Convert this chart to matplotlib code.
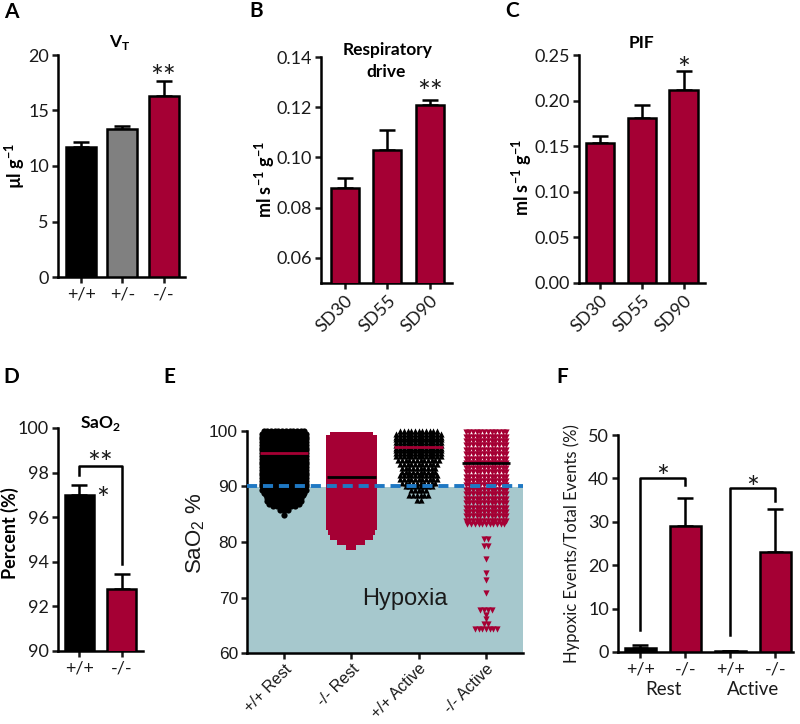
import numpy as np
import matplotlib
matplotlib.use("Agg")
import matplotlib.pyplot as plt
from matplotlib.transforms import blended_transform_factory, offset_copy

# ---------------- data ----------------
a_cats = ['+/+', '+/-', '-/-']
a_vals = [11.7, 13.3, 16.3]
a_errs = [0.5, 0.3, 1.4]

b_cats = ['SD30', 'SD55', 'SD90']
b_vals = [0.088, 0.103, 0.121]
b_errs = [0.004, 0.008, 0.002]

c_cats = ['SD30', 'SD55', 'SD90']
c_vals = [0.153, 0.181, 0.212]
c_errs = [0.008, 0.014, 0.020]

d_cats = ['+/+', '-/-']
d_vals = [97.0, 92.8]
d_errs = [0.45, 0.65]

e_cats = ['+/+ Rest', '-/- Rest', '+/+ Active', '-/- Active']
e_means = [96.0, 91.8, 97.2, 94.3]

# binned SaO2 readings (bin level, number of readings in that bin)
e_wt_rest_levels = [100.0, 99.5, 99.0, 98.5, 98.0, 97.5, 97.0, 96.5, 96.0, 95.5, 95.0, 94.5,
                    94.0, 93.5, 93.0, 92.5, 92.0, 91.5, 91.0, 90.5, 90.0, 89.4, 88.9, 88.4,
                    87.9, 87.4, 86.9, 86.4, 85.7, 84.8]
e_wt_rest_counts = [12, 13, 13, 13, 13, 13, 13, 13, 13, 13, 13, 13,
                    13, 13, 13, 13, 13, 13, 13, 13, 13, 13, 12, 11,
                    10, 10, 9, 7, 3, 1]

e_ko_rest_levels = [99.3, 98.8, 98.3, 97.8, 97.3, 96.8, 96.3, 95.8, 95.3, 94.8, 94.3, 93.8,
                    93.3, 92.8, 92.3, 91.8, 91.3, 90.8, 90.3, 89.8, 89.3, 88.8, 88.3, 87.8,
                    87.3, 86.8, 86.3, 85.4, 84.5, 83.6, 82.7, 81.8, 80.9, 80.0, 79.1]
e_ko_rest_counts = [11, 13, 13, 13, 13, 13, 13, 13, 13, 13, 13, 13,
                    13, 13, 13, 13, 13, 13, 13, 13, 13, 13, 13, 13,
                    13, 13, 13, 13, 13, 13, 13, 12, 11, 7, 2]

e_wt_act_levels = [100.0, 99.5, 99.0, 98.5, 98.0, 97.5, 97.0, 96.5, 96.0, 95.5,
                   94.8, 94.1, 93.4, 92.7, 92.0, 91.3, 90.6, 90.0, 89.3, 88.4, 87.6]
e_wt_act_counts = [11, 13, 13, 13, 13, 13, 13, 13, 13, 13,
                   12, 11, 10, 10, 11, 11, 10, 8, 5, 6, 2]

e_ko_act_levels = [99.8, 99.0, 98.2, 97.4, 96.6, 95.8, 95.0, 94.2, 93.4, 92.6, 91.8, 91.0,
                   90.2, 89.4, 88.6, 87.8, 87.0, 86.2, 85.4, 84.6, 83.8, 83.2,
                   80.6, 79.3, 76.9, 74.4, 73.2, 70.8, 67.7, 66.9, 66.1, 65.2, 64.4]
e_ko_act_counts = [12, 12, 12, 12, 12, 12, 12, 12, 12, 12, 12, 12,
                   12, 12, 12, 12, 12, 12, 12, 12, 12, 11,
                   2, 2, 1, 1, 1, 1, 4, 1, 1, 2, 7]

f_cats = ['+/+', '-/-', '+/+', '-/-']
f_groups = ['Rest', 'Active']
f_vals = [1.0, 29.0, 0.3, 23.0]
f_errs = [0.5, 6.5, 0.0, 10.0]

# ---------------- style ----------------
plt.rcParams['font.family'] = ['Lato', 'DejaVu Sans']
plt.rcParams['mathtext.fontset'] = 'custom'
plt.rcParams['mathtext.rm'] = 'Lato'
plt.rcParams['mathtext.bf'] = 'Lato:bold'
plt.rcParams['axes.unicode_minus'] = False

CRIMSON = '#a50034'
GRAY = '#808080'
TXT = '#1a1a1a'
ARIAL = ['Liberation Sans', 'DejaVu Sans']

W, H = 800, 724
fig = plt.figure(figsize=(W / 100, H / 100), dpi=100)


def px_axes(x0, y0, x1, y1):
    return fig.add_axes([x0 / W, 1 - y1 / H, (x1 - x0) / W, (y1 - y0) / H])


def ftext(x, y, s, **kw):
    fig.text(x / W, 1 - y / H, s, **kw)


def style(ax, labelsize=13, family=None):
    for s in ['top', 'right']:
        ax.spines[s].set_visible(False)
    for s in ['left', 'bottom']:
        ax.spines[s].set_linewidth(1.8)
    ax.tick_params(width=1.8, length=4.5, labelsize=labelsize, colors=TXT, direction='out', pad=2)
    if family:
        for lab in ax.get_xticklabels() + ax.get_yticklabels():
            lab.set_family(family)


def bars(ax, vals, errs, colors, width):
    x = np.arange(len(vals))
    ax.bar(x, vals, width=width, color=colors, edgecolor='black', linewidth=1.8, zorder=3)
    ax.errorbar(x, vals, yerr=[np.zeros(len(vals)), errs], fmt='none', ecolor='black',
                elinewidth=1.8, capsize=6, capthick=1.8, zorder=2)
    return x


def star(ax, x, y, s, size=22):
    tr = offset_copy(ax.transData, fig=fig, x=0, y=-0.25 * size, units='points')
    ax.text(x, y, s, transform=tr, fontsize=size, ha='center', va='center', color=TXT,
            clip_on=False)


LABEL = dict(fontsize=15, fontweight='bold', ha='center', va='center', color='black')

# ---------------- A ----------------
axA = px_axes(58, 55, 185, 277)
x = bars(axA, a_vals, a_errs, ['black', GRAY, CRIMSON], 0.73)
axA.set_xlim(-0.56, 2.52)
axA.set_ylim(0, 20)
axA.set_yticks([0, 5, 10, 15, 20])
axA.set_xticks(x)
axA.set_xticklabels(a_cats)
style(axA)
star(axA, 2, 18.65, '**')
ftext(120, 42, r'V$_\mathregular{T}$', fontsize=12.5, fontweight='bold', ha='center', va='center')
ftext(15, 166, r'µl g$^\mathregular{-1}$', fontsize=13, fontweight='bold', rotation=90,
      ha='center', va='center')
ftext(11, 12, 'A', **LABEL)

# ---------------- B ----------------
axB = px_axes(321, 57, 452, 283)
x = bars(axB, b_vals, b_errs, [CRIMSON] * 3, 0.66)
axB.set_xlim(-0.565, 2.52)
axB.set_ylim(0.05, 0.14)
axB.set_yticks([0.06, 0.08, 0.10, 0.12, 0.14])
axB.set_yticklabels(['0.06', '0.08', '0.10', '0.12', '0.14'])
axB.set_xticks(x)
axB.set_xticklabels(b_cats, rotation=45, ha='right', rotation_mode='anchor')
style(axB)
star(axB, 2, 0.1288, '**')
ftext(388, 50, 'Respiratory', fontsize=12.5, fontweight='bold', ha='center', va='center')
ftext(386, 72, 'drive', fontsize=12.5, fontweight='bold', ha='center', va='center')
ftext(265, 180, r'ml s$^\mathregular{-1}$ g$^\mathregular{-1}$', fontsize=13, fontweight='bold',
      rotation=90, ha='center', va='center')
ftext(256, 11, 'B', **LABEL)

# ---------------- C ----------------
axC = px_axes(579, 55, 705, 283)
x = bars(axC, c_vals, c_errs, [CRIMSON] * 3, 0.68)
axC.set_xlim(-0.5, 2.51)
axC.set_ylim(0, 0.25)
axC.set_yticks([0, 0.05, 0.10, 0.15, 0.20, 0.25])
axC.set_yticklabels(['0.00', '0.05', '0.10', '0.15', '0.20', '0.25'])
axC.set_xticks(x)
axC.set_xticklabels(c_cats, rotation=45, ha='right', rotation_mode='anchor')
style(axC)
star(axC, 2, 0.2423, '*')
ftext(642, 43, 'PIF', fontsize=12.5, fontweight='bold', ha='center', va='center')
ftext(522, 178, r'ml s$^\mathregular{-1}$ g$^\mathregular{-1}$', fontsize=13, fontweight='bold',
      rotation=90, ha='center', va='center')
ftext(512, 11, 'C', **LABEL)

# ---------------- D ----------------
axD = px_axes(58, 428, 143, 651)
x = bars(axD, d_vals, d_errs, ['black', CRIMSON], 0.71)
axD.set_xlim(-0.51, 1.51)
axD.set_ylim(90, 100)
axD.set_yticks([90, 92, 94, 96, 98, 100])
axD.set_xticks(x)
axD.set_xticklabels(d_cats)
style(axD)
axD.plot([0, 0, 1, 1], [97.9, 98.3, 98.3, 93.9], color='black', lw=1.8, clip_on=False, zorder=4)
star(axD, 0.5, 98.75, '**')
star(axD, 0.56, 97.1, '*')
ftext(100, 424, r'SaO$_\mathregular{2}$', fontsize=12.5, fontweight='bold', ha='center', va='center')
ftext(10, 533, 'Percent (%)', fontsize=13, fontweight='bold', rotation=90, ha='center', va='center')
ftext(11, 377, 'D', **LABEL)

# ---------------- E ----------------
axE = px_axes(247, 431, 523, 653)
axE.set_xlim(-0.55, 3.55)
axE.set_ylim(60, 100)
axE.axhspan(60, 90, color='#a6c8cd', zorder=0, lw=0)
groups = [
    (e_wt_rest_levels, e_wt_rest_counts, 'o', 'black', 20),
    (e_ko_rest_levels, e_ko_rest_counts, 's', CRIMSON, 16),
    (e_wt_act_levels, e_wt_act_counts, '^', 'black', 20),
    (e_ko_act_levels, e_ko_act_counts, 'v', CRIMSON, 20),
]
dx = 0.055
for i, (levels, counts, m, c, s) in enumerate(groups):
    xs, ys = [], []
    for v, n in zip(levels, counts):
        offs = (np.arange(n) - (n - 1) / 2) * dx
        xs.extend(i + offs)
        ys.extend([v] * n)
    axE.scatter(xs, ys, marker=m, s=s, color=c, linewidths=0, zorder=3, clip_on=False)
mean_colors = [CRIMSON, 'black', CRIMSON, 'black']
for i, (mv, mc) in enumerate(zip(e_means, mean_colors)):
    axE.hlines(mv, i - 0.36, i + 0.36, color=mc, lw=2, zorder=5)
axE.axhline(90, color='#1f78c3', lw=2.8, ls=(0, (2.6, 1.5)), zorder=6)
axE.text(1.8, 69.8, 'Hypoxia', fontsize=17, family=ARIAL, ha='center', va='center', color=TXT)
axE.set_yticks([60, 70, 80, 90, 100])
axE.set_xticks(range(4))
axE.set_xticklabels(e_cats, rotation=45, ha='right', rotation_mode='anchor')
style(axE, labelsize=12.5, family=ARIAL)
axE.tick_params(axis='x', labelsize=11.5, pad=1.5)
ftext(196, 533, r'SaO$_\mathregular{2}$ %', fontsize=16, family=ARIAL, rotation=90,
      ha='center', va='center', color=TXT)
ftext(169, 377, 'E', **LABEL)

# ---------------- F ----------------
axF = px_axes(618, 435, 793, 652)
x = bars(axF, f_vals, f_errs, ['black', CRIMSON, 'black', CRIMSON], 0.69)
axF.set_xlim(-0.5, 3.39)
axF.set_ylim(0, 50)
axF.set_yticks([0, 10, 20, 30, 40, 50])
axF.set_xticks(x)
axF.set_xticklabels(f_cats)
style(axF)
axF.plot([0, 0, 1, 1], [5.0, 40.2, 40.2, 38.5], color='black', lw=1.8, clip_on=False, zorder=4)
axF.plot([2, 2, 3, 3], [3.9, 37.7, 37.7, 34.9], color='black', lw=1.8, clip_on=False, zorder=4)
star(axF, 0.5, 41.9, '*')
star(axF, 2.5, 39.4, '*')
tr = blended_transform_factory(axF.transData, axF.transAxes)
for gx, g in zip([0.5, 2.5], f_groups):
    axF.text(gx, -0.175, g, transform=tr, fontsize=13.5, ha='center', va='center', color=TXT)
ftext(572, 544, 'Hypoxic Events/Total Events (%)', fontsize=12, rotation=90,
      ha='center', va='center', color=TXT)
ftext(562, 377, 'F', **LABEL)

fig.savefig('out.png', dpi=100)
